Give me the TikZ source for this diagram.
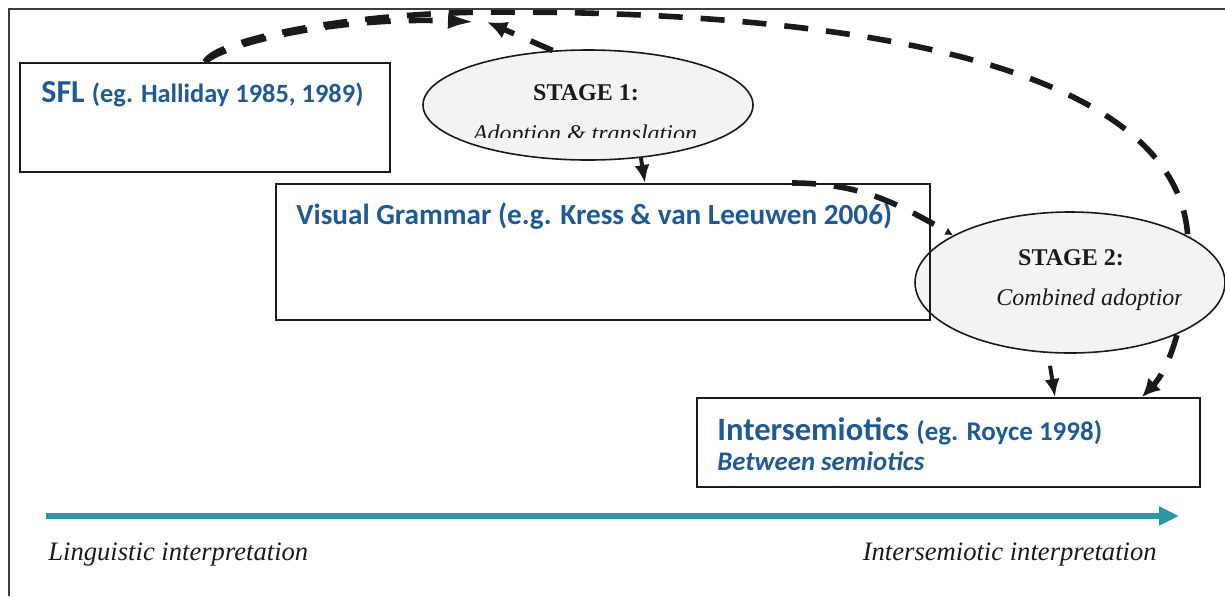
\documentclass[tikz,border=0pt]{standalone}
\usepackage{fontspec}
\setmainfont{Liberation Serif}
\newfontfamily\calib{Carlito}
\usepackage{xcolor}
\usepackage{tikz}
\usetikzlibrary{arrows.meta,shapes.geometric,backgrounds}
\definecolor{ink}{HTML}{1A1A1A}
\definecolor{frameline}{HTML}{3C3C3C}
\definecolor{titleblue}{HTML}{1F5A96}
\definecolor{axisteal}{HTML}{2A96A8}
\definecolor{ovalfill}{HTML}{F2F4F3}
\tikzset{
  box/.style={draw=ink, line width=1pt, inner sep=0pt},
  oval/.style={ellipse, draw=ink, line width=0.8pt, fill=ovalfill, inner sep=0pt},
  outerframe/.style={draw=frameline, line width=1pt},
  solidarrow/.style={draw=ink, line width=2pt, -{Latex[length=9pt,width=7.5pt]}},
  dashline/.style={draw=ink, line width=2.8pt, dash pattern=on 12pt off 9pt},
  axisarrow/.style={draw=axisteal, line width=3pt, -{Triangle[length=10pt,width=9pt]}},
  bluelbl/.style={text=titleblue, font=\calib\bfseries, inner sep=0pt},
  stage/.style={text=ink, font=\fontsize{12}{14}\selectfont\bfseries, inner sep=0pt},
  sublbl/.style={text=ink, font=\fontsize{12}{14}\selectfont\itshape, inner sep=0pt},
  axislbl/.style={text=ink, font=\fontsize{13.3}{16}\selectfont\itshape, inner sep=0pt}
}

\begin{document}
\begin{tikzpicture}[x=0.5pt,y=-0.5pt]
  \useasboundingbox (0,0) rectangle (1225,596);
  \draw[outerframe] (9,596) |- (1225,9);

  \node[oval, minimum width=165pt, minimum height=55pt] (st1) at (588,105) {};
  \node[oval, minimum width=155pt, minimum height=70.5pt] (st2) at (1070,282.5) {};
  \node[box, minimum width=185pt, minimum height=54.5pt] (sfl) at (205,117.5) {};
  \node[box, minimum width=327pt, minimum height=68pt] (vg) at (603,252) {};
  \node[box, minimum width=251.5pt, minimum height=44.5pt] (inter) at (948.5,442.5) {};

  \node[bluelbl, anchor=base west] (sfltxt) at ([xshift=11pt,yshift=-20pt]sfl.north west)
    {\fontsize{16}{18}\selectfont SFL \fontsize{13.2}{15}\selectfont(eg. Halliday 1985, 1989)};
  \node[bluelbl, font=\calib\bfseries\fontsize{14.6}{17}\selectfont, anchor=base west] (vgtxt)
    at ([xshift=10.5pt,yshift=-20.5pt]vg.north west) {Visual Grammar (e.g. Kress \& van Leeuwen 2006)};
  \node[bluelbl, anchor=base west] (intertxt) at ([xshift=10.5pt,yshift=-21.5pt]inter.north west)
    {\fontsize{16.3}{19}\selectfont Intersemiotics \fontsize{13.5}{16}\selectfont(eg. Royce 1998)};
  \node[bluelbl, font=\calib\bfseries\itshape\fontsize{13.4}{16}\selectfont, anchor=base west] (intersub)
    at ([xshift=10.5pt,yshift=-36.5pt]inter.north west) {Between semiotics};

  \node[stage, anchor=base] (st1head) at ([xshift=-1pt,yshift=2.5pt]st1.center) {STAGE 1:};
  \begin{scope}
    \clip (st1.west |- st1.north) rectangle ([yshift=-16pt]st1.east);
    \node[sublbl, anchor=base] (st1sub) at ([xshift=-1.5pt,yshift=-18pt]st1.center) {Adoption \& translation};
  \end{scope}
  \node[stage, anchor=base] (st2head) at ([xshift=0.5pt,yshift=8.75pt]st2.center) {STAGE 2:};
  \coordinate (st2cut) at ([xshift=-22pt]st2.east);
  \begin{scope}
    \clip (st2.west |- st2.north) rectangle (st2cut |- st2.south);
    \node[sublbl, anchor=base west] (st2sub) at ([xshift=-37pt,yshift=-11.25pt]st2.center) {Combined adoption};
  \end{scope}

  \coordinate (axstart) at (46,516);
  \coordinate (axend) at (1179,516);
  \draw[axisarrow] (axstart) -- (axend);
  \node[axislbl, anchor=base west] (lingtxt) at (48,560) {Linguistic interpretation};
  \node[axislbl, anchor=base east] (semtxt) at (1157,560) {Intersemiotic interpretation};

  \coordinate (sfltip) at (476,22);
  \coordinate (st1tip) at (487,22);
  \draw[solidarrow] (st1.-45) -- ([xshift=21pt]vg.north);
  \draw[solidarrow] ([xshift=-10pt,yshift=-6pt]st2.south) -- ([xshift=53.25pt]inter.north);
  \draw[dashline, -{Latex[length=4pt,width=4pt]}] ([xshift=94.5pt]vg.north) to[out=0, in=150] (st2.158);
  \draw[dashline, -{Latex[length=14pt,width=8pt]}] (sfl.north) .. controls (222,45) and (330,16) .. (sfltip);
  \draw[dashline, -{Latex[length=10pt,width=9pt]}] (st1.123) -- (st1tip);
  \begin{pgfonlayer}{background}
    \draw[dashline, -{Latex[length=9pt,width=9pt]}] (sfl.north) .. controls (215,40) and (350,12) .. (500,12)
      .. controls (947,12) and (1188,94) .. (1188,245)
      .. controls (1188,320) and (1168,370) .. ([xshift=96.75pt]inter.north);
  \end{pgfonlayer}
\end{tikzpicture}
\end{document}
